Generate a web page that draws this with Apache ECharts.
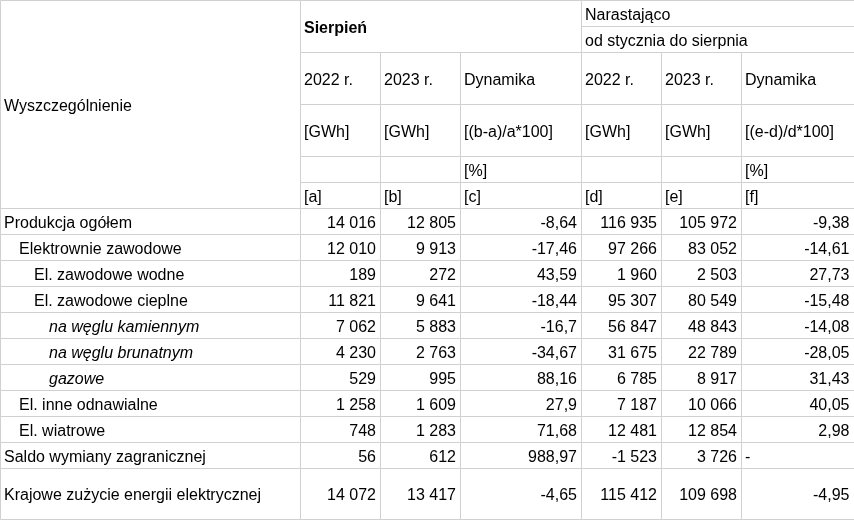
<!DOCTYPE html>
<html>
<head>
<meta charset="utf-8">
<script src="https://cdn.jsdelivr.net/npm/echarts@6/dist/echarts.min.js"></script>
<style>
  html, body { margin: 0; padding: 0; background: #fff; }
  #main { width: 854px; height: 521px; }
</style>
</head>
<body>
<div id="main"></div>
<script>
// row labels and indent level (3 = italic sub-rows)
const labels = [
  'Produkcja ogółem',
  'Elektrownie zawodowe',
  'El. zawodowe wodne',
  'El. zawodowe cieplne',
  'na węglu kamiennym',
  'na węglu brunatnym',
  'gazowe',
  'El. inne odnawialne',
  'El. wiatrowe',
  'Saldo wymiany zagranicznej',
  'Krajowe zużycie energii elektrycznej'
]
const levels = [0, 1, 2, 2, 3, 3, 3, 1, 1, 0, 0]

// Sierpień
const aug2022 = [14016, 12010, 189, 11821, 7062, 4230, 529, 1258, 748, 56, 14072]
const aug2023 = [12805, 9913, 272, 9641, 5883, 2763, 995, 1609, 1283, 612, 13417]
const augDyn = [-8.64, -17.46, 43.59, -18.44, -16.7, -34.67, 88.16, 27.9, 71.68, 988.97, -4.65]

// Narastająco od stycznia do sierpnia
const cum2022 = [116935, 97266, 1960, 95307, 56847, 31675, 6785, 7187, 12481, -1523, 115412]
const cum2023 = [105972, 83052, 2503, 80549, 48843, 22789, 8917, 10066, 12854, 3726, 109698]
const cumDyn = [-9.38, -14.61, 27.73, -15.48, -14.08, -28.05, 31.43, 40.05, 2.98, null, -4.95]

// header texts
const headYear = ['2022 r.', '2023 r.', 'Dynamika', '2022 r.', '2023 r.', 'Dynamika']
const headUnit = ['[GWh]', '[GWh]', '[(b-a)/a*100]', '[GWh]', '[GWh]', '[(e-d)/d*100]']
const headPct = ['', '', '[%]', '', '', '[%]']
const headLetter = ['[a]', '[b]', '[c]', '[d]', '[e]', '[f]']

// layout (pixel edges of the sheet grid)
const colEdges = [0.5, 300.5, 380.5, 460.5, 581.5, 661.5, 741.5, 856]
const rowEdges = [0.5, 26.5, 52.5, 104.5, 156.5, 182.5, 208.5, 234.5, 260.5, 286.5, 312.5,
  338.5, 364.5, 390.5, 416.5, 442.5, 468.5, 519.5]

const fmtInt = v => (v < 0 ? '-' : '') + String(Math.abs(v)).replace(/\B(?=(\d{3})+(?!\d))/g, ' ')
const fmtDyn = v => String(v).replace('.', ',')

const cells = []
const addCell = (c0, r0, c1, r1, text, opts) => {
  cells.push(Object.assign({ c0, r0, c1, r1, text, align: 'left', bold: false, italic: false, indent: 0 }, opts || {}))
}

// header block
addCell(0, 0, 1, 6, 'Wyszczególnienie')
addCell(1, 0, 4, 2, 'Sierpień', { bold: true })
addCell(4, 0, 7, 1, 'Narastająco')
addCell(4, 1, 7, 2, 'od stycznia do sierpnia')
for (let i = 0; i < 6; i++) {
  addCell(i + 1, 2, i + 2, 3, headYear[i])
  addCell(i + 1, 3, i + 2, 4, headUnit[i])
  addCell(i + 1, 4, i + 2, 5, headPct[i])
  addCell(i + 1, 5, i + 2, 6, headLetter[i])
}

// body
labels.forEach((lab, i) => {
  const r = 6 + i
  addCell(0, r, 1, r + 1, lab, { indent: levels[i], italic: levels[i] === 3 })
  addCell(1, r, 2, r + 1, fmtInt(aug2022[i]), { align: 'right' })
  addCell(2, r, 3, r + 1, fmtInt(aug2023[i]), { align: 'right' })
  addCell(3, r, 4, r + 1, fmtDyn(augDyn[i]), { align: 'right' })
  addCell(4, r, 5, r + 1, fmtInt(cum2022[i]), { align: 'right' })
  addCell(5, r, 6, r + 1, fmtInt(cum2023[i]), { align: 'right' })
  if (cumDyn[i] === null) {
    addCell(6, r, 7, r + 1, '-')
  } else {
    addCell(6, r, 7, r + 1, fmtDyn(cumDyn[i]), { align: 'right', pad: 6.5 })
  }
})

const chart = echarts.init(document.getElementById('main'))

const option = {
  backgroundColor: '#ffffff',
  animation: false,
  grid: { left: 0, right: 0, top: 0, bottom: 0 },
  xAxis: { type: 'value', min: 0, max: 854, show: false },
  yAxis: { type: 'value', min: 0, max: 521, inverse: true, show: false },
  series: [
    {
      type: 'custom',
      clip: false,
      silent: true,
      data: cells.map(c => [colEdges[c.c0], rowEdges[c.r0], colEdges[c.c1], rowEdges[c.r1]]),
      renderItem: (params, api) => {
        const c = cells[params.dataIndex]
        const p0 = api.coord([api.value(0), api.value(1)])
        const p1 = api.coord([api.value(2), api.value(3)])
        const tx = c.align === 'right' ? p1[0] - (c.pad || 4.5) : p0[0] + 3.5 + c.indent * 15
        const ty = (p0[1] + p1[1]) / 2 + 2
        return {
          type: 'group',
          children: [
            {
              type: 'rect',
              shape: { x: p0[0], y: p0[1], width: p1[0] - p0[0], height: p1[1] - p0[1] },
              style: { fill: null, stroke: '#d0d0d0', lineWidth: 1 }
            },
            {
              type: 'text',
              style: {
                text: c.text,
                x: tx,
                y: ty,
                align: c.align,
                verticalAlign: 'middle',
                fill: '#000000',
                font: (c.italic ? 'italic ' : '') + (c.bold ? 'bold ' : '') + '16px "Liberation Sans", Arial, sans-serif'
              }
            }
          ]
        }
      }
    }
  ]
}

option && chart.setOption(option)
</script>
</body>
</html>
